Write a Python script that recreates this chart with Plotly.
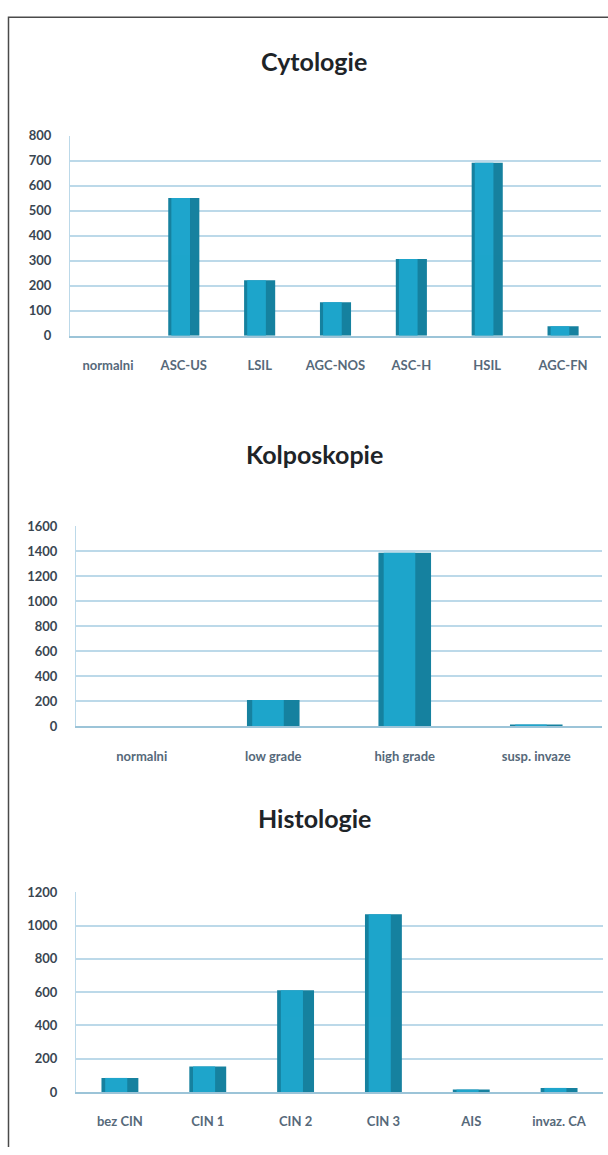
import plotly.graph_objects as go

W, H = 608, 1155

# ---- data ----
cyto_cats = ["normalni", "ASC-US", "LSIL", "AGC-NOS", "ASC-H", "HSIL", "AGC-FN"]
cyto_vals = [0, 550, 222, 134, 307, 691, 38]
cyto_ticks = [0, 100, 200, 300, 400, 500, 600, 700, 800]

kolpo_cats = ["normalni", "low grade", "high grade", "susp. invaze"]
kolpo_vals = [0, 210, 1390, 12]
kolpo_ticks = [0, 200, 400, 600, 800, 1000, 1200, 1400, 1600]

histo_cats = ["bez CIN", "CIN 1", "CIN 2", "CIN 3", "AIS", "invaz. CA"]
histo_vals = [85, 154, 612, 1068, 15, 25]
histo_ticks = [0, 200, 400, 600, 800, 1000, 1200]

titles = ["Cytologie", "Kolposkopie", "Histologie"]

# ---- layout geometry (pixels) ----
panels = [
    dict(cats=cyto_cats, vals=cyto_vals, ticks=cyto_ticks, x0=70, x1=601, ytop=129.3, ybot=332.3, bw=0.41, title_y=54),
    dict(cats=kolpo_cats, vals=kolpo_vals, ticks=kolpo_ticks, x0=76, x1=602, ytop=525.7, ybot=728.3, bw=0.40, title_y=452),
    dict(cats=histo_cats, vals=histo_vals, ticks=histo_ticks, x0=76, x1=603, ytop=896.7, ybot=1099.3, bw=0.42, title_y=821),
]

FONT = "Lato"
GRID = "#bcd9e9"
fig = go.Figure()
layout = dict(
    width=W, height=H, margin=dict(l=0, r=0, t=0, b=0),
    paper_bgcolor="white", plot_bgcolor="white",
    showlegend=False, barmode="overlay",
    annotations=[], shapes=[],
)

for i, p in enumerate(panels):
    n = "" if i == 0 else str(i + 1)
    xa, ya = "x" + n, "y" + n
    # main bar body
    fig.add_trace(go.Bar(
        x=p["cats"], y=p["vals"], width=p["bw"], xaxis=xa, yaxis=ya,
        marker=dict(color="#16819f", line=dict(width=0)),
        hoverinfo="x+y",
    ))
    # highlight stripe (same data) to mimic the glossy gradient
    fig.add_trace(go.Bar(
        x=p["cats"], y=p["vals"], width=p["bw"] * 0.6, offset=-p["bw"] * 0.4,
        xaxis=xa, yaxis=ya,
        marker=dict(color="#1fa9d0", line=dict(width=0)), opacity=0.9,
        hoverinfo="skip",
    ))
    layout["xaxis" + n] = dict(
        domain=[p["x0"] / W, p["x1"] / W], anchor=ya,
        type="category", showgrid=False,
        showline=True, linecolor="#9cc4d8", linewidth=1.5,
        ticks="", ticklabelstandoff=17,
        tickfont=dict(family=FONT, size=13, color="#56697a", weight="bold"),
        fixedrange=True,
    )
    layout["yaxis" + n] = dict(
        domain=[1 - p["ybot"] / H, 1 - p["ytop"] / H], anchor=xa,
        range=[0, p["ticks"][-1]], tickvals=p["ticks"],
        showgrid=True, gridcolor=GRID, gridwidth=1.5,
        showline=True, linecolor=GRID, linewidth=1,
        zeroline=False, ticks="", ticklabelstandoff=15,
        tickfont=dict(family=FONT, size=13, color="#3a4651", weight="bold"),
        fixedrange=True,
    )
    layout["annotations"].append(dict(
        text="<b>%s</b>" % titles[i], xref="paper", yref="paper",
        x=314 / W, y=1 - p["title_y"] / H, xanchor="center", yanchor="middle",
        showarrow=False, font=dict(family=FONT, size=25, color="#1e2428"),
    ))

# page frame (left and top border)
layout["shapes"].append(dict(
    type="path", xref="paper", yref="paper",
    path="M %f,0 L %f,%f L 1,%f" % (8.5 / W, 8.5 / W, 1 - 9.5 / H, 1 - 9.5 / H),
    line=dict(color="#4a4a4a", width=1.5),
))

fig.update_layout(**layout)
fig.write_html("out.html")
